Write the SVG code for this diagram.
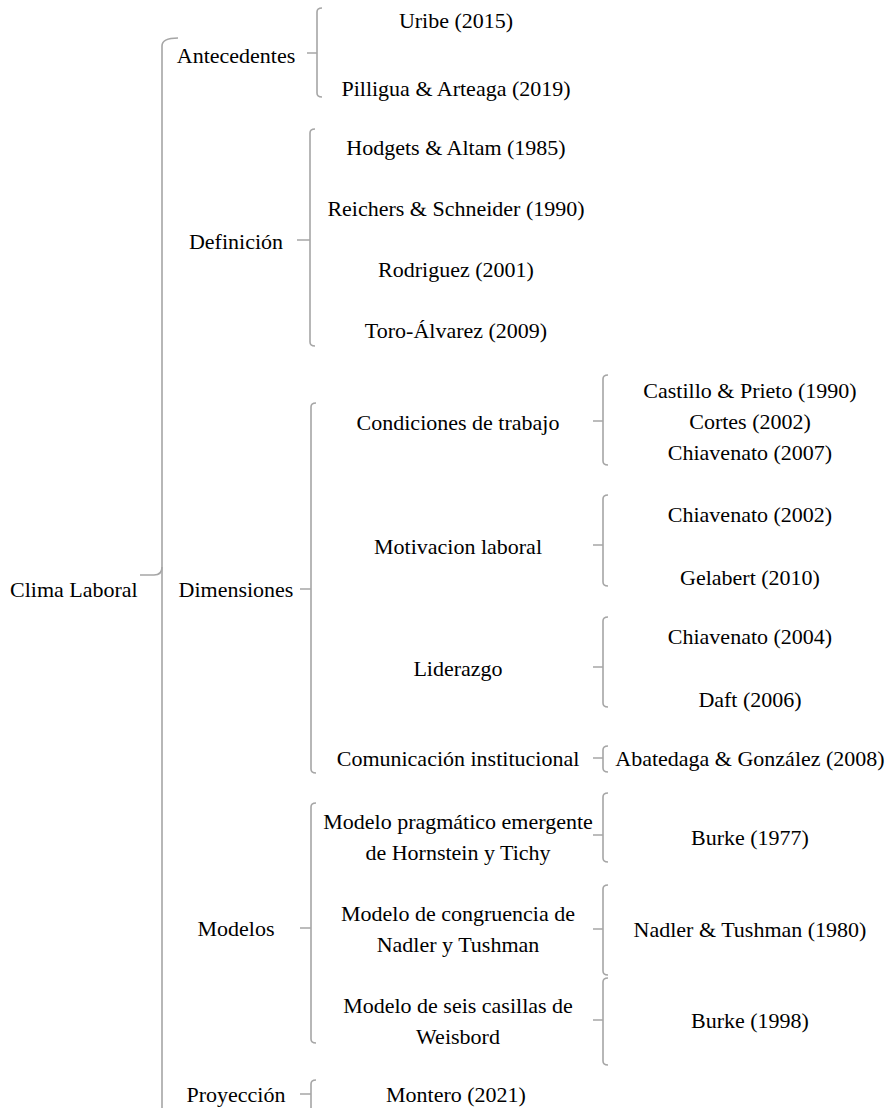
<svg xmlns="http://www.w3.org/2000/svg" width="889" height="1108" viewBox="0 0 889 1108">
  <style>
    text { font-family: "Liberation Serif", "Times New Roman", serif; font-size: 22px; fill: #000; dominant-baseline: central; }
    .c { text-anchor: middle; }
    .br { fill: none; stroke: #a6a6a6; stroke-width: 1.6; }
  </style>
  <rect width="889" height="1108" fill="#fff"/>

  <!-- bracket connectors -->
  <g id="connectors" class="br">
    <!-- root -->
    <path d="M178,38 Q162,38 162,46 L162,1120"/>
    <path d="M140,575 L154,575 Q162,575 162,567"/>
    <!-- Antecedentes -->
    <path d="M322,8 Q317,8 317,12 L317,93 Q317,97 322,97 M307,53 L317,53"/>
    <!-- Definición -->
    <path d="M315,129 Q310,129 310,133 L310,342 Q310,346 315,346 M297,240 L310,240"/>
    <!-- Dimensiones -->
    <path d="M316,403 Q311,403 311,407 L311,769 Q311,773 316,773 M300,589 L311,589"/>
    <!-- Modelos -->
    <path d="M316,803 Q311,803 311,807 L311,1039 Q311,1043 316,1043 M300,928 L311,928"/>
    <!-- Proyección -->
    <path d="M316,1080 Q311,1080 311,1084 L311,1120 M300,1094 L311,1094"/>
    <!-- Condiciones de trabajo -->
    <path d="M608,375 Q603,375 603,379 L603,461 Q603,465 608,465 M593,421 L603,421"/>
    <!-- Motivacion laboral -->
    <path d="M608,495 Q603,495 603,499 L603,582 Q603,586 608,586 M593,545 L603,545"/>
    <!-- Liderazgo -->
    <path d="M608,617 Q603,617 603,621 L603,703 Q603,707 608,707 M593,667 L603,667"/>
    <!-- Comunicación institucional -->
    <path d="M608,746 Q603,746 603,750 L603,768 Q603,772 608,772 M593,758 L603,758"/>
    <!-- Modelo pragmático -->
    <path d="M608,793 Q603,793 603,797 L603,858 Q603,862 608,862 M593,835 L603,835"/>
    <!-- Modelo de congruencia -->
    <path d="M608,885 Q603,885 603,889 L603,971 Q603,975 608,975 M593,929 L603,929"/>
    <!-- Modelo de seis casillas -->
    <path d="M608,978 Q603,978 603,982 L603,1061 Q603,1065 608,1065 M593,1020 L603,1020"/>
  </g>

  <g id="clima-laboral"><text x="10" y="589">Clima Laboral</text></g>

  <g id="antecedentes"><text x="236" y="55" class="c">Antecedentes</text></g>
  <g id="uribe-2015"><text x="456" y="20" class="c">Uribe (2015)</text></g>
  <g id="pilligua-arteaga-2019"><text x="456" y="88" class="c">Pilligua &amp; Arteaga (2019)</text></g>

  <g id="definicion"><text x="236" y="241" class="c">Definición</text></g>
  <g id="hodgets-altam-1985"><text x="456" y="147" class="c">Hodgets &amp; Altam (1985)</text></g>
  <g id="reichers-schneider-1990"><text x="456" y="208" class="c">Reichers &amp; Schneider (1990)</text></g>
  <g id="rodriguez-2001"><text x="456" y="269" class="c">Rodriguez (2001)</text></g>
  <g id="toro-alvarez-2009"><text x="456" y="330" class="c">Toro-Álvarez (2009)</text></g>

  <g id="dimensiones"><text x="236" y="589" class="c">Dimensiones</text></g>
  <g id="condiciones-de-trabajo"><text x="458" y="422" class="c">Condiciones de trabajo</text></g>
  <g id="condiciones-refs">
    <text x="750" y="390" class="c">Castillo &amp; Prieto (1990)</text>
    <text x="750" y="421" class="c">Cortes (2002)</text>
    <text x="750" y="452" class="c">Chiavenato (2007)</text>
  </g>
  <g id="motivacion-laboral"><text x="458" y="546" class="c">Motivacion laboral</text></g>
  <g id="chiavenato-2002"><text x="750" y="514" class="c">Chiavenato (2002)</text></g>
  <g id="gelabert-2010"><text x="750" y="577" class="c">Gelabert (2010)</text></g>
  <g id="liderazgo"><text x="458" y="668" class="c">Liderazgo</text></g>
  <g id="chiavenato-2004"><text x="750" y="636" class="c">Chiavenato (2004)</text></g>
  <g id="daft-2006"><text x="750" y="699" class="c">Daft (2006)</text></g>
  <g id="comunicacion-institucional"><text x="458" y="758" class="c">Comunicación institucional</text></g>
  <g id="abatedaga-gonzalez-2008"><text x="750" y="758" class="c">Abatedaga &amp; González (2008)</text></g>

  <g id="modelos"><text x="236" y="928" class="c">Modelos</text></g>
  <g id="modelo-pragmatico">
    <text x="458" y="821" class="c">Modelo pragmático emergente</text>
    <text x="458" y="852" class="c">de Hornstein y Tichy</text>
  </g>
  <g id="burke-1977"><text x="750" y="837" class="c">Burke (1977)</text></g>
  <g id="modelo-congruencia">
    <text x="458" y="913" class="c">Modelo de congruencia de</text>
    <text x="458" y="944" class="c">Nadler y Tushman</text>
  </g>
  <g id="nadler-tushman-1980"><text x="750" y="929" class="c">Nadler &amp; Tushman (1980)</text></g>
  <g id="modelo-seis-casillas">
    <text x="458" y="1005" class="c">Modelo de seis casillas de</text>
    <text x="458" y="1036" class="c">Weisbord</text>
  </g>
  <g id="burke-1998"><text x="750" y="1020" class="c">Burke (1998)</text></g>

  <g id="proyeccion"><text x="236" y="1094" class="c">Proyección</text></g>
  <g id="montero-2021"><text x="456" y="1094" class="c">Montero (2021)</text></g>
</svg>
